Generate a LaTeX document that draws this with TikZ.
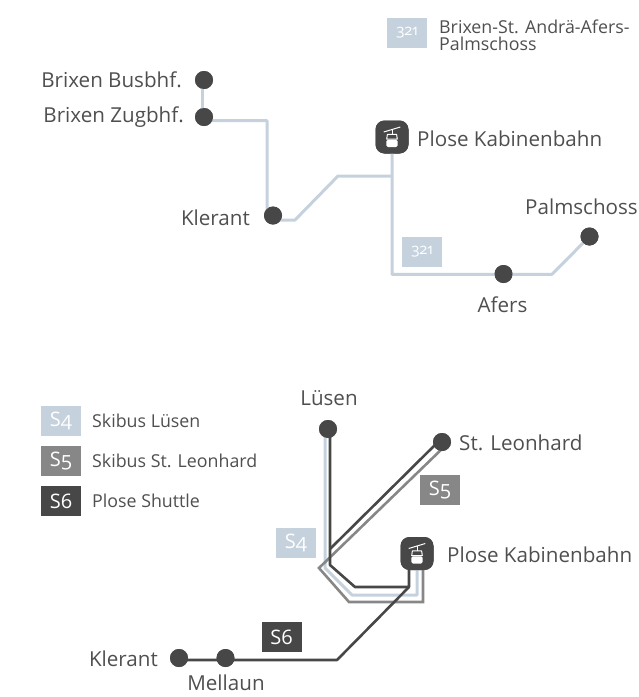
\documentclass[tikz,border=0pt]{standalone}
\usepackage{fontspec}
\setmainfont[Numbers=OldStyle]{Open Sans}
\definecolor{lblue}{HTML}{C5D2DE}
\definecolor{mgrey}{HTML}{878787}
\definecolor{dgrey}{HTML}{474747}
\definecolor{txt}{HTML}{4F4F4F}
\tikzset{
  x=1pt,y=-1pt,
  stopdot/.style={circle,fill=dgrey,minimum size=18pt,inner sep=0pt},
  lbl/.style={text=txt,font=\fontsize{20.6}{22}\selectfont,inner sep=0pt},
  lgd/.style={text=txt,font=\fontsize{17.8}{17}\selectfont,inner sep=0pt,anchor=west},
  tag/.style={minimum width=40pt,minimum height=30pt,inner sep=0pt,text=white,font=\fontsize{20}{20}\selectfont},
  tagl/.style={tag,fill=lblue},
  tagm/.style={tag,fill=mgrey},
  tagd/.style={tag,fill=dgrey},
  lineb/.style={draw=lblue,line width=3pt,line join=round},
  linem/.style={draw=mgrey,line width=2.6pt,line join=miter},
  lined/.style={draw=dgrey,line width=2.6pt,line join=round},
  iconbox/.style={rounded corners=9pt,fill=dgrey,minimum size=33pt,inner sep=0pt},
  pics/gondola/.style={code={
    \draw[white,line width=1pt] (-8.3,-5) -- (8.3,-10);
    \draw[white,line width=1pt] (0,-7.5) -- (0,-3);
    \draw[white,line width=1pt,line join=round] (-4.6,-2.6) -- (4.6,-2.6) -- (5.3,2) -- (-5.3,2) -- cycle;
    \fill[white,rounded corners=1.5pt] (-5.6,2.8) -- (5.6,2.8) -- (5.6,10) -- (-5.6,10) -- cycle;
  }}
}
\begin{document}
\begin{tikzpicture}
\useasboundingbox (0,0) rectangle (639,697);
% top network: named points
\node[stopdot] (busb) at (204,80) {};
\node[stopdot] (zugb) at (204,117) {};
\node[stopdot] (kler) at (273,215.5) {};
\node[stopdot] (afers) at (503.5,274) {};
\node[stopdot] (palm) at (589.5,236.5) {};
\node[iconbox] (ic1) at (392,137) {};
\coordinate (a0) at (202,80);
\coordinate (a00) at (202,117);
\coordinate (a1) at (267,120.5);
\coordinate (a11) at (204,120.5);
\coordinate (a2) at (267,220);
\coordinate (a3) at (295,220);
\coordinate (a4) at (338,176);
\coordinate (a5) at (392,176);
\coordinate (a6) at (392,274.3);
\coordinate (a7) at (552,274.3);
\path[lineb] (a0) -- (a00);
\path[lineb] (a11) -- (a1) -- (a2) -- (a3) -- (a4) -- (a5);
\path[lineb] (ic1.center) -- (a6) -- (a7) -- (palm.center);
\node[stopdot] at (busb) {};
\node[stopdot] at (zugb) {};
\node[stopdot] at (kler) {};
\node[stopdot] at (afers) {};
\node[stopdot] at (palm) {};
\node[iconbox] at (ic1) {};
\pic at (ic1) {gondola};
\node[tagl,font=\fontsize{15}{15}\selectfont] (t321) at (422,252) {321};
\node[lbl,anchor=east] (lb1) at (182,80) {Brixen Busbhf.};
\node[lbl,anchor=east] (lb2) at (184,117) {Brixen Zugbhf.};
\node[lbl,anchor=east] (lb3) at (250,218) {Klerant};
\node[lbl,anchor=west] (lb4) at (417,139) {Plose Kabinenbahn};
\node[lbl,anchor=east] (lb5) at (638,207) {Palmschoss};
\node[lbl] (lb6) at (502.5,305) {Afers};
% top legend
\node[tagl,font=\fontsize{15}{15}\selectfont] (t321b) at (407,33) {321};
\node[text=txt,font=\fontsize{17.8}{17}\selectfont,inner sep=0pt,anchor=west,align=left] (lg0) at (439,35) {Brixen-St. Andrä-Afers-\\Palmschoss};
% bottom legend
\node[tagl] (l4) at (61,421) {S4};
\node[tagm] (l5) at (61,461) {S5};
\node[tagd] (l6) at (61,501) {S6};
\node[lgd] (lt4) at (92,421) {Skibus Lüsen};
\node[lgd] (lt5) at (92,461) {Skibus St. Leonhard};
\node[lgd] (lt6) at (92,501) {Plose Shuttle};
% bottom network
\node[stopdot] (lues) at (328,429) {};
\node[stopdot] (leon) at (442,442) {};
\node[stopdot] (klb) at (179,658) {};
\node[stopdot] (mell) at (225.5,658) {};
\node[iconbox] (ic2) at (417,553.5) {};
\coordinate (b1) at (325,429);
\coordinate (b2) at (325,568);
\coordinate (b3) at (352,595);
\coordinate (b4) at (417,595);
\coordinate (b5) at (417,560);
\coordinate (c1) at (445,446);
\coordinate (c2) at (319,568);
\coordinate (c3) at (349,602);
\coordinate (c4) at (423,602);
\coordinate (c5) at (423,560);
\coordinate (d1) at (330,429);
\coordinate (d2) at (330,565);
\coordinate (d3) at (355,587);
\coordinate (d4) at (409,587);
\coordinate (d5) at (409,560);
\coordinate (e1) at (440,440);
\coordinate (e2) at (330,549);
\coordinate (f0) at (179,660);
\coordinate (f1) at (337,660);
\path[lineb] (b1) -- (b2) -- (b3) -- (b4) -- (b5);
\path[linem] (c1) -- (c2) -- (c3) -- (c4) -- (c5);
\path[lined] (d1) -- (d2) -- (d3) -- (d4) -- (d5);
\path[lined] (e1) -- (e2);
\path[lined] (f0) -- (f1) -- (d4);
\node[stopdot] at (lues) {};
\node[stopdot] at (leon) {};
\node[stopdot] at (klb) {};
\node[stopdot] at (mell) {};
\node[iconbox] at (ic2) {};
\pic at (ic2) {gondola};
\node[tagm] (ts5) at (440,490) {S5};
\node[tagl] (ts4) at (296,543) {S4};
\node[tagd] (ts6) at (281.5,637) {S6};
\node[lbl] (lb7) at (329,398) {Lüsen};
\node[lbl,anchor=west] (lb8) at (459,443) {St. Leonhard};
\node[lbl,anchor=west] (lb9) at (447,555) {Plose Kabinenbahn};
\node[lbl,anchor=east] (lb10) at (158,659) {Klerant};
\node[lbl] (lb11) at (226,683) {Mellaun};
\end{tikzpicture}
\end{document}
